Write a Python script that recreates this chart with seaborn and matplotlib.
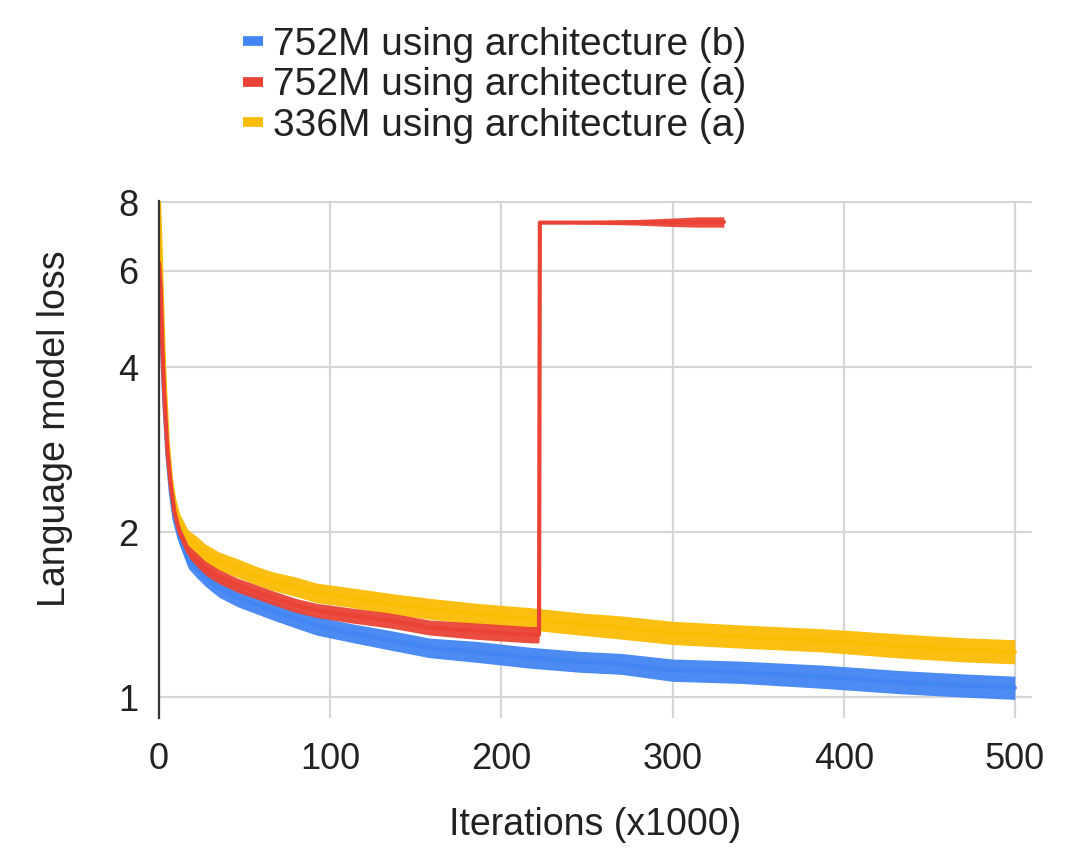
import numpy as np
import pandas as pd
import matplotlib
matplotlib.use("Agg")
import matplotlib.pyplot as plt
import seaborn as sns
from matplotlib.lines import Line2D

# values (iterations in thousands, loss on log axis)
iters = [0, 1, 2, 3, 5, 7, 9, 12, 17, 22, 27, 35, 46, 56, 66, 80, 92, 112,
         135, 158, 185, 217, 246, 270, 300, 340, 387, 433, 470, 500]
loss_752b = [6.2, 5.5, 4.2, 3.5, 2.75, 2.35, 2.12, 1.95, 1.78, 1.71, 1.65,
             1.58, 1.52, 1.48, 1.44, 1.39, 1.35, 1.31, 1.27, 1.23, 1.21, 1.18,
             1.16, 1.15, 1.12, 1.11, 1.09, 1.065, 1.05, 1.04]
spread_752b = [0, 0, 0, 0, 0.01, 0.02, 0.025, 0.03, 0.035, 0.035, 0.035,
               0.038, 0.04, 0.04, 0.04, 0.04, 0.04, 0.04, 0.042, 0.042, 0.045,
               0.045, 0.045, 0.045, 0.048, 0.048, 0.05, 0.05, 0.05, 0.05]

iters_752a = [0, 1, 2, 3, 5, 7, 9, 12, 17, 22, 27, 35, 46, 56, 66, 80, 92,
              112, 135, 158, 185, 217, 222, 222.5, 250, 280, 300, 315, 330]
loss_752a = [6.2, 5.6, 4.3, 3.6, 2.8, 2.42, 2.18, 2.0, 1.84, 1.78, 1.72, 1.66,
             1.60, 1.56, 1.52, 1.47, 1.44, 1.41, 1.38, 1.34, 1.32, 1.30, 1.30,
             7.35, 7.35, 7.36, 7.36, 7.37, 7.37]
spread_752a = [0, 0, 0, 0, 0.01, 0.02, 0.025, 0.028, 0.03, 0.03, 0.03, 0.03,
               0.03, 0.03, 0.03, 0.03, 0.03, 0.032, 0.032, 0.032, 0.035, 0.035,
               0.035, 0.0, 0.006, 0.012, 0.018, 0.022, 0.022]

loss_336a = [8.0, 6.5, 5.0, 4.0, 2.95, 2.5, 2.28, 2.1, 1.95, 1.89, 1.83, 1.77,
             1.72, 1.67, 1.63, 1.59, 1.55, 1.52, 1.48, 1.45, 1.42, 1.39, 1.36,
             1.34, 1.31, 1.29, 1.27, 1.24, 1.22, 1.21]
spread_336a = [0, 0, 0, 0, 0.01, 0.02, 0.025, 0.03, 0.035, 0.04, 0.04, 0.04,
               0.04, 0.04, 0.04, 0.042, 0.042, 0.042, 0.045, 0.045, 0.045,
               0.048, 0.048, 0.05, 0.05, 0.05, 0.05, 0.052, 0.052, 0.052]

labels = ["752M using architecture (b)", "752M using architecture (a)",
          "336M using architecture (a)"]
colors = ["#4285F4", "#EA4335", "#FBBC04"]

df = pd.concat([
    pd.DataFrame({"iter": iters, "loss": loss_752b, "spread": spread_752b, "model": labels[0]}),
    pd.DataFrame({"iter": iters, "loss": loss_336a, "spread": spread_336a, "model": labels[2]}),
    pd.DataFrame({"iter": iters_752a, "loss": loss_752a, "spread": spread_752a, "model": labels[1]}),
])
palette = dict(zip(labels, colors))

sns.set_theme(style="whitegrid")
plt.rcParams["font.family"] = ["Liberation Sans", "DejaVu Sans"]

fig = plt.figure(figsize=(10.65, 8.48), dpi=100)
ax = fig.add_axes([0.1493, 0.1533, 0.8197, 0.6097])

# noisy bands, drawn blue -> yellow -> red
for name in [labels[0], labels[2], labels[1]]:
    d = df[df["model"] == name]
    y = d["loss"].to_numpy()
    s = d["spread"].to_numpy()
    ax.fill_between(d["iter"], y / (1 + s), y * (1 + s), color=palette[name],
                    lw=0, alpha=0.95)
    sns.lineplot(data=d, x="iter", y="loss", color=palette[name], lw=3,
                 estimator=None, sort=False, ax=ax, legend=False)

ax.set_yscale("log")
ax.set_ylim(0.916, 8.05)
ax.set_xlim(0, 510)
ax.set_yticks([1, 2, 4, 6, 8])
ax.set_yticklabels(["1", "2", "4", "6", "8"])
ax.minorticks_off()
ax.set_xticks([0, 100, 200, 300, 400, 500])

ax.grid(True, color="#d6d6d6", lw=1.6)
for side in ["top", "right", "bottom"]:
    ax.spines[side].set_visible(False)
ax.spines["left"].set_color("#333333")
ax.spines["left"].set_linewidth(1.6)
ax.tick_params(axis="both", length=0, labelsize=26, colors="#222222")
ax.tick_params(axis="y", pad=15)
ax.tick_params(axis="x", pad=17)

ax.set_xlabel("Iterations (x1000)", fontsize=27, color="#222222", labelpad=22)
ax.set_ylabel("Language model loss", fontsize=27, color="#222222")
ax.yaxis.set_label_coords(-0.098, 0.56)

handles = [Line2D([0], [0], color=c, lw=7, solid_capstyle="butt") for c in colors]
fig.legend(handles, labels, loc="upper left", bbox_to_anchor=(0.2138, 0.987),
           frameon=False, fontsize=28, handlelength=0.5, handletextpad=0.26,
           labelspacing=0.12, borderaxespad=0, labelcolor="#222222")

fig.savefig("out.png", dpi=100)
